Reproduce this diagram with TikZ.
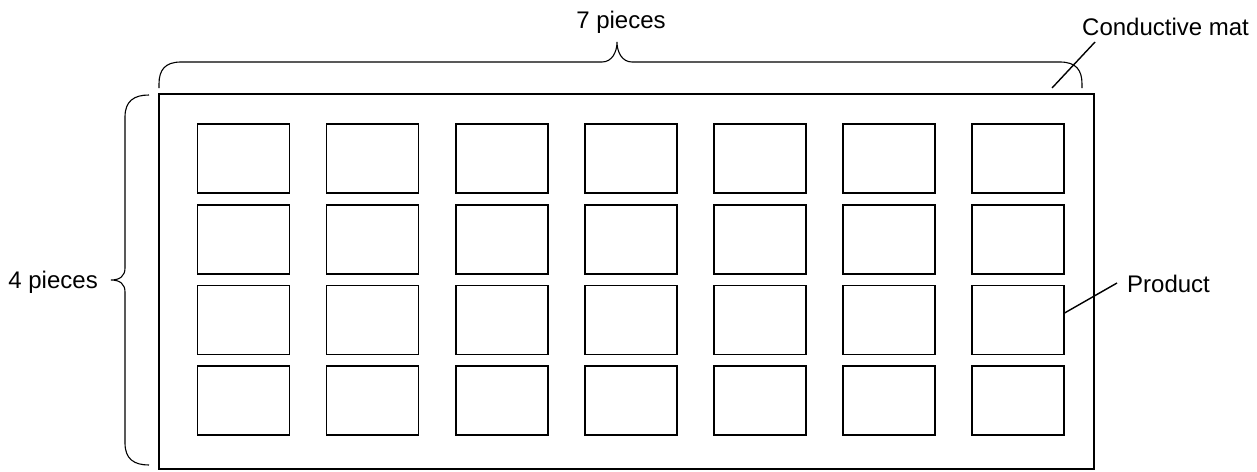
\documentclass[tikz,border=0pt]{standalone}
\usepackage{fontspec}
\setmainfont{Liberation Sans}
\usetikzlibrary{positioning, calc}
\tikzset{
  MAT/.style={draw=black,line width=2.6pt,rectangle,minimum width=935pt,minimum height=375pt,inner sep=0pt},
  PD/.style={draw=black,line width=1.8pt,rectangle,minimum width=92pt,minimum height=69pt,inner sep=0pt},
  LB/.style={font=\fontsize{24}{28}\selectfont,inner sep=0pt},
  BR/.style={line width=1.1pt},
  LD/.style={line width=1.4pt},
}

\begin{document}
\begin{tikzpicture}[x=1pt,y=-1pt]
\useasboundingbox (0,0) rectangle (1257,471);

% Conductive mat
\node[MAT](mat) at (626.5,281.5){};

% Products (4 rows x 7 columns)
\foreach \r in {1,...,4}{
  \foreach \c in {1,...,7}{
    \node[PD](p-\r-\c) at ({243.5+129.05*(\c-1)},{158.5+80.7*(\r-1)}){};
  }
}

% Labels
\node[LB,anchor=base](seven)  at (621,28){7 pieces};
\node[LB,anchor=base east](four) at (98,288){4 pieces};
\node[LB,anchor=base west](cmat) at (1082,35){Conductive mat};
\node[LB,anchor=base west](prod) at (1127,292){Product};

% Braces
\draw[BR](159,88)--(159,84) .. controls (159,70) and (165,62) .. (181,62)--(602,62)
  .. controls (612,62) and (617,52) .. (617,42) .. controls (617,52) and (622,62) .. (632,62)
  --(1060,62) .. controls (1076,62) and (1082,70) .. (1082,84)--(1082,88);
\draw[BR](149,95) .. controls (134,95) and (125,101) .. (125,117)--(125,268)
  .. controls (125,276) and (120,280) .. (111,280) .. controls (120,280) and (125,284) .. (125,292)
  --(125,443) .. controls (125,459) and (134,465) .. (149,465);

% Leaders
\coordinate(matpt) at (1052,88);
\coordinate(cmatpt) at (1095,42);
\coordinate(prodpt) at (1117,283);
\draw[LD](matpt)--(cmatpt);
\draw[LD]([yshift=7pt]p-3-7.east)--(prodpt);

\end{tikzpicture}
\end{document}
